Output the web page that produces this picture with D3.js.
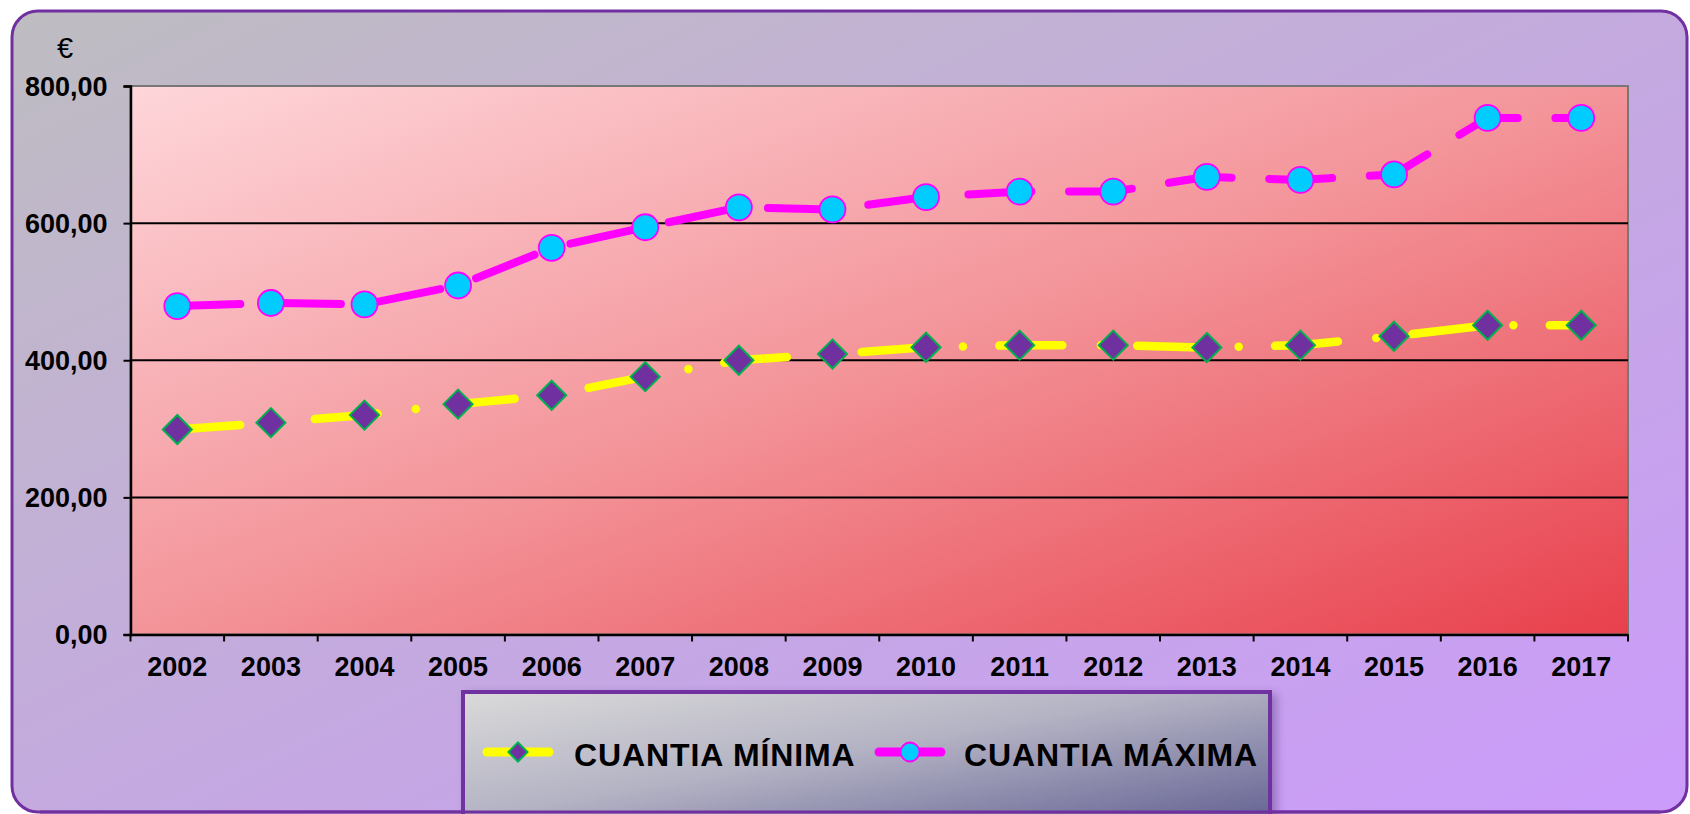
<!DOCTYPE html>
<html>
<head>
<meta charset="utf-8">
<script src="https://cdn.jsdelivr.net/npm/d3@7"></script>
<style>
  html, body { margin: 0; padding: 0; background: #fff; }
  svg { display: block; font-family: 'Liberation Sans', Arial, sans-serif; }
</style>
</head>
<body>
<svg width="1690" height="814"></svg>
<script>
var years = ['2002', '2003', '2004', '2005', '2006', '2007', '2008', '2009',
  '2010', '2011', '2012', '2013', '2014', '2015', '2016', '2017'];
var cuantiaMinima = [299, 309, 320, 336, 349, 376, 400, 409, 419, 422, 422, 418.5, 422, 435, 451, 451];
var cuantiaMaxima = [479, 483.5, 481.5, 509, 564, 594, 623, 620, 638, 646, 646, 667.5, 663, 671, 753.5, 753.5];
var yTicks = [0, 200, 400, 600, 800];
var seriesNames = ['CUANTIA MÍNIMA', 'CUANTIA MÁXIMA'];

var svg = d3.select('svg'),
  width = +svg.attr('width'),
  height = +svg.attr('height');

var plot = {left: 130.5, right: 1628, top: 86, bottom: 634.5};

var x = d3.scaleBand().domain(years).range([plot.left, plot.right]);
var y = d3.scaleLinear().domain([0, 800]).range([plot.bottom, plot.top]);
var cx = function(d) { return x(d) + x.bandwidth() / 2; };

var es = d3.formatLocale({decimal: ',', thousands: '.', grouping: [3], currency: ['', '€']});
var fmt = es.format('.2f');

/* ------
GRADIENTS
------ */
var defs = svg.append('defs');

function linear(id, stops) {
  var g = defs.append('linearGradient').attr('id', id)
    .attr('x1', 0).attr('y1', 0).attr('x2', 1).attr('y2', 1);
  stops.forEach(function(s) {
    g.append('stop').attr('offset', s[0]).attr('stop-color', s[1]);
  });
}
linear('bg', [[0, '#bebdc1'], [0.5, '#c4aadf'], [1, '#cb9bfb']]);
linear('plotbg', [[0, '#fed6da'], [0.5, '#f39499'], [1, '#e8404c']]);
linear('legbg', [[0, '#dadada'], [0.45, '#b4b3c4'], [1, '#5f5d90']]);

var shadow = defs.append('filter').attr('id', 'shadow')
  .attr('x', '-5%').attr('y', '-20%').attr('width', '115%').attr('height', '150%');
shadow.append('feDropShadow').attr('dx', 5).attr('dy', 4)
  .attr('stdDeviation', 4).attr('flood-color', '#5a3d80').attr('flood-opacity', 0.45);

/* ---
FRAME
--- */
svg.append('rect')
  .attr('x', 12).attr('y', 11)
  .attr('width', 1675).attr('height', 801)
  .attr('rx', 26)
  .attr('fill', 'url(#bg)')
  .attr('stroke', '#7030a0')
  .attr('stroke-width', 3);

svg.append('rect')
  .attr('x', plot.left).attr('y', plot.top)
  .attr('width', plot.right - plot.left).attr('height', plot.bottom - plot.top)
  .attr('fill', 'url(#plotbg)')
  .attr('stroke', '#777')
  .attr('stroke-width', 2);

/* ----
AXES
---- */
svg.append('g')
  .selectAll('line')
  .data(yTicks.filter(function(d) { return d > 0 && d < 800; }))
  .enter()
  .append('line')
  .attr('x1', plot.left).attr('x2', plot.right)
  .attr('y1', y).attr('y2', y)
  .attr('stroke', '#000')
  .attr('stroke-width', 2);

var yAxis = svg.append('g')
  .attr('transform', 'translate(' + plot.left + ',0)')
  .call(d3.axisLeft(y).tickValues(yTicks).tickFormat(fmt).tickSizeOuter(0).tickSize(7).tickPadding(16));

var xAxis = svg.append('g')
  .attr('transform', 'translate(0,' + plot.bottom + ')')
  .call(d3.axisBottom(x).tickSize(0).tickPadding(22));

// ticks between categories
xAxis.selectAll('.sep')
  .data(years.concat(['end']))
  .enter()
  .append('line')
  .attr('class', 'sep')
  .attr('x1', function(d, i) { return i < years.length ? x(d) : plot.right; })
  .attr('x2', function(d, i) { return i < years.length ? x(d) : plot.right; })
  .attr('y1', 0).attr('y2', 7)
  .attr('stroke', '#000')
  .attr('stroke-width', 2);

[yAxis, xAxis].forEach(function(a) {
  a.select('.domain').attr('stroke', '#000').attr('stroke-width', 2.5);
  a.selectAll('.tick line').attr('stroke', '#000').attr('stroke-width', 2);
  a.selectAll('.tick text')
    .attr('fill', '#000')
    .style('font-size', '27px')
    .style('font-weight', 'bold')
    .style('font-family', "'Liberation Sans', Arial, sans-serif");
});
yAxis.selectAll('.tick text').attr('dy', '0.34em');
xAxis.selectAll('.tick text').attr('dy', '0.71em');

svg.append('text')
  .attr('x', 65).attr('y', 58)
  .attr('text-anchor', 'middle')
  .style('font-size', '29px')
  .text('€');

/* -----
SERIES
----- */
function pts(values) {
  return years.map(function(yr, i) { return [cx(yr), y(values[i])]; });
}
var line = d3.line();

function diamond(sel, half) {
  sel.attr('d', 'M0,' + (-half) + 'L' + half + ',0L0,' + half + 'L' + (-half) + ',0Z')
    .attr('fill', '#7030a0')
    .attr('stroke', '#00b050')
    .attr('stroke-width', 2);
}
function bubble(sel, r) {
  sel.attr('r', r)
    .attr('fill', '#00ccff')
    .attr('stroke', '#ff00ff')
    .attr('stroke-width', 1.8);
}

var gMin = svg.append('g');
gMin.append('path')
  .attr('d', line(pts(cuantiaMinima)))
  .attr('fill', 'none')
  .attr('stroke', '#ffff00')
  .attr('stroke-width', 8.5)
  .attr('stroke-linecap', 'round')
  .attr('stroke-dasharray', '63 38.5 0 36.4');
gMin.selectAll('.mk')
  .data(cuantiaMinima)
  .enter()
  .append('path')
  .attr('class', 'mk')
  .attr('transform', function(d, i) { return 'translate(' + cx(years[i]) + ',' + y(d) + ')'; })
  .call(diamond, 14.5);

var gMax = svg.append('g');
gMax.append('path')
  .attr('d', line(pts(cuantiaMaxima)))
  .attr('fill', 'none')
  .attr('stroke', '#ff00ff')
  .attr('stroke-width', 8)
  .attr('stroke-linecap', 'round')
  .attr('stroke-dasharray', '63 37.7');
gMax.selectAll('circle')
  .data(cuantiaMaxima)
  .enter()
  .append('circle')
  .attr('cx', function(d, i) { return cx(years[i]); })
  .attr('cy', function(d) { return y(d); })
  .call(bubble, 13);

/* ----
LEGEND
---- */
var legend = svg.append('g');
legend.append('rect')
  .attr('x', 463).attr('y', 692)
  .attr('width', 807).attr('height', 140)
  .attr('fill', 'url(#legbg)')
  .attr('stroke', '#7030a0')
  .attr('stroke-width', 4)
  .attr('filter', 'url(#shadow)');

var legItems = [
  {name: seriesNames[0], x: 518, color: '#ffff00', textX: 574},
  {name: seriesNames[1], x: 910, color: '#ff00ff', textX: 964}
];
var li = legend.selectAll('.item')
  .data(legItems)
  .enter()
  .append('g')
  .attr('class', 'item');

li.append('line')
  .attr('x1', function(d) { return d.x - 31; })
  .attr('x2', function(d) { return d.x + 31; })
  .attr('y1', 752).attr('y2', 752)
  .attr('stroke', function(d) { return d.color; })
  .attr('stroke-width', 9)
  .attr('stroke-linecap', 'round');

li.filter(function(d, i) { return i === 0; })
  .append('path')
  .attr('transform', function(d) { return 'translate(' + d.x + ',752)'; })
  .call(diamond, 9.5);

li.filter(function(d, i) { return i === 1; })
  .append('circle')
  .attr('cx', function(d) { return d.x; })
  .attr('cy', 752)
  .call(bubble, 9.5);

li.append('text')
  .attr('x', function(d) { return d.textX; })
  .attr('y', 766)
  .style('font-size', '32px')
  .style('font-weight', 'bold')
  .style('letter-spacing', '0.9px')
  .text(function(d) { return d.name; });

// frame bottom edge drawn over the legend
svg.append('line')
  .attr('x1', 40).attr('x2', 1660)
  .attr('y1', 812).attr('y2', 812)
  .attr('stroke', '#7030a0')
  .attr('stroke-width', 3);
</script>
</body>
</html>
